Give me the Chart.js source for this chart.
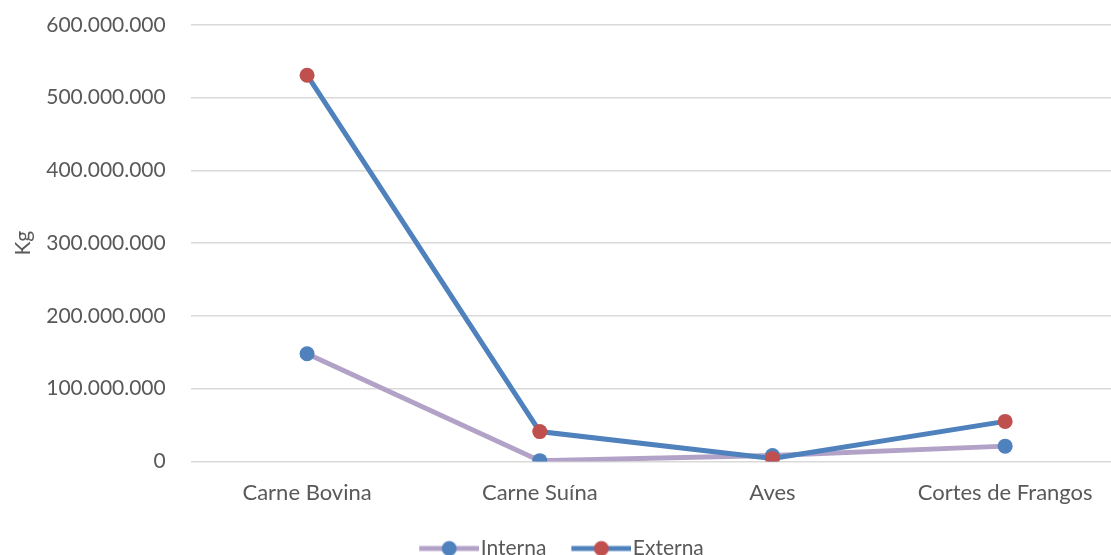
<!DOCTYPE html>
<html>
<head>
<meta charset="utf-8">
<script src="https://cdn.jsdelivr.net/npm/chart.js@4/dist/chart.umd.min.js"></script>
<style>
  html, body { margin: 0; padding: 0; background: #fff; overflow: hidden; }
  #wrap { width: 1129px; height: 555px; }
</style>
</head>
<body>
<div id="wrap"><canvas id="grafico"></canvas></div>
<script>
// dados (kg)
const categorias = ['Carne Bovina', 'Carne Suína', 'Aves', 'Cortes de Frangos'];
const interna = [148000000, 1000000, 8000000, 21000000];
const externa = [531000000, 41000000, 4000000, 55000000];
const nomesSeries = ['Interna', 'Externa'];

const corLinha = ['#b3a2c7', '#4f81bd'];
const corPonto = ['#4f81bd', '#c0504d'];

const tamFonte = 21;

// ícone da legenda: linha com marcador no meio (parte esquerda transparente dá o espaço entre itens)
function iconeLegenda(linha, ponto) {
    const c = document.createElement('canvas');
    c.width = 84; c.height = 18;
    const g = c.getContext('2d');
    g.strokeStyle = linha;
    g.lineWidth = 5;
    g.beginPath(); g.moveTo(24, 9); g.lineTo(84, 9); g.stroke();
    g.fillStyle = ponto;
    g.beginPath(); g.arc(54, 9, 7.5, 0, Math.PI * 2); g.fill();
    return c;
}

function formatoMilhar(v) {
    return String(v).replace(/\B(?=(\d{3})+(?!\d))/g, '.');
}

// desloca a legenda um pouco para a esquerda, como no original
const ajusteLegenda = {
    id: 'ajusteLegenda',
    afterLayout(chart) {
        if (!chart.legend) return;
        chart.legend.left -= 15;
        chart.legend.right -= 15;
    }
};

const fonte = "Lato, 'Open Sans', sans-serif";
const cinza = '#595959';

new Chart(document.getElementById('grafico'), {
    type: 'line',
    data: {
        labels: categorias,
        datasets: [
            {
                label: nomesSeries[0],
                data: interna,
                borderColor: corLinha[0],
                backgroundColor: corPonto[0],
                pointBackgroundColor: corPonto[0],
                pointBorderWidth: 0,
                pointRadius: 7.5,
                borderWidth: 5,
                tension: 0,
                order: 2
            },
            {
                label: nomesSeries[1],
                data: externa,
                borderColor: corLinha[1],
                backgroundColor: corPonto[1],
                pointBackgroundColor: corPonto[1],
                pointBorderWidth: 0,
                pointRadius: 7.5,
                borderWidth: 5,
                tension: 0,
                order: 1
            }
        ]
    },
    plugins: [ajusteLegenda],
    options: {
        responsive: true,
        maintainAspectRatio: false,
        animation: false,
        layout: { padding: { top: 0, left: 11, right: 2, bottom: -14 } },
        scales: {
            x: {
                offset: true,
                grid: { display: false, drawTicks: false },
                border: { display: false },
                ticks: { color: cinza, font: { family: fonte, size: 22 }, padding: 18 }
            },
            y: {
                min: 0,
                max: 600000000,
                afterFit: s => { s.paddingTop = 25; s.paddingBottom = 0; },
                ticks: {
                    stepSize: 100000000,
                    color: cinza,
                    font: { family: fonte, size: tamFonte },
                    padding: 25,
                    callback: v => formatoMilhar(v)
                },
                grid: { color: '#d9d9d9', lineWidth: 1.5, drawTicks: false },
                border: { display: false },
                title: {
                    display: true,
                    text: 'Kg',
                    color: cinza,
                    font: { family: fonte, size: tamFonte },
                    padding: { top: 0, bottom: -15 }
                }
            }
        },
        plugins: {
            legend: {
                position: 'bottom',
                title: { display: true, text: ' ', font: { size: 1 }, padding: { top: 3, bottom: 0 } },
                labels: {
                    usePointStyle: true,
                    pointStyleWidth: 66,
                    boxHeight: 18,
                    padding: 10,
                    color: cinza,
                    font: { family: fonte, size: tamFonte },
                    generateLabels: chart => chart.data.datasets.map((ds, i) => ({
                        text: ds.label,
                        pointStyle: iconeLegenda(corLinha[i], corPonto[i]),
                        fillStyle: corPonto[i],
                        strokeStyle: corLinha[i],
                        lineWidth: 0,
                        fontColor: cinza,
                        hidden: false,
                        datasetIndex: i
                    }))
                }
            },
            tooltip: { enabled: false }
        }
    }
});
</script>
</body>
</html>
